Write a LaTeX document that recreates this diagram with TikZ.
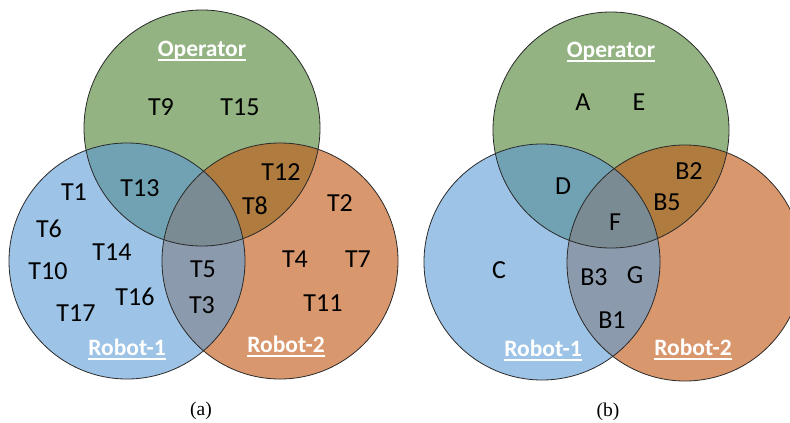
\documentclass[tikz,border=0pt]{standalone}
\usepackage{fontspec}
\setmainfont{Carlito}
\newfontfamily\capfont{Liberation Serif}
\definecolor{cg}{HTML}{93B382}
\definecolor{cb}{HTML}{9DC3E6}
\definecolor{co}{HTML}{D9976D}
\definecolor{cgb}{HTML}{70A2B3}
\definecolor{cgo}{HTML}{AF7B3E}
\definecolor{cbo}{HTML}{8B9AAD}
\definecolor{cgbo}{HTML}{7B8B93}
\definecolor{edge}{HTML}{2A2A2A}
\tikzset{
  item/.style={font=\fontsize{26}{26}\selectfont, text=black, inner sep=0pt},
  setname/.style={font=\fontsize{23.5}{24}\selectfont\bfseries, text=white, inner sep=0pt, anchor=base},
  uline/.style={draw=white, line width=1.3pt},
  caption/.style={font=\capfont\fontsize{19.5}{20}\selectfont, inner sep=0pt},
  rim/.style={draw=edge, line width=0.8pt},
}
% Three-set diagram: centres of Operator, Robot-1, Robot-2
\newcommand\threesets[6]{%
  \fill[cg] (#1,#2) circle (118pt);
  \fill[cb] (#3,#4) circle (118pt);
  \fill[co] (#5,#6) circle (118pt);
  \begin{scope}
    \clip (#3,#4) circle (118pt);
    \fill[cbo] (#5,#6) circle (118pt);
  \end{scope}
  \begin{scope}
    \clip (#1,#2) circle (118pt);
    \fill[cgb] (#3,#4) circle (118pt);
    \fill[cgo] (#5,#6) circle (118pt);
    \clip (#3,#4) circle (118pt);
    \fill[cgbo] (#5,#6) circle (118pt);
  \end{scope}
  \draw[rim] (#1,#2) circle (118pt);
  \draw[rim] (#3,#4) circle (118pt);
  \draw[rim] (#5,#6) circle (118pt);
}
% Underlined set title
\newcommand\settitle[4]{%
  \node[setname] (#1) at (#2,#3) {#4};
  \draw[uline] ([yshift=-4pt]#1.base west) -- ([yshift=-4pt]#1.base east);
}
\begin{document}
\begin{tikzpicture}[x=1pt,y=-1pt]
\useasboundingbox (0,0) rectangle (790,423);
\clip (0,0) rectangle (790,423);
\fill[white] (0,0) rectangle (790,423);

% ---- (a) task allocation ----
\threesets{202}{128}{127}{261}{280}{261}
\settitle{opA}{202}{56}{Operator}
\settitle{r1A}{127}{355}{Robot-1}
\settitle{r2A}{286}{352}{Robot-2}
\node[item] (t9)  at (161,107) {T9};
\node[item] (t15) at (240,107) {T15};
\node[item] (t13) at (140,188) {T13};
\node[item] (t12) at (281,172) {T12};
\node[item] (t8)  at (255,206) {T8};
\node[item] (t1)  at (74,192)  {T1};
\node[item] (t2)  at (340,203) {T2};
\node[item] (t6)  at (49,229)  {T6};
\node[item] (t14) at (112,252) {T14};
\node[item] (t10) at (48,271)  {T10};
\node[item] (t4)  at (295,259) {T4};
\node[item] (t7)  at (358,259) {T7};
\node[item] (t5)  at (203,269) {T5};
\node[item] (t3)  at (202,305) {T3};
\node[item] (t16) at (135,297) {T16};
\node[item] (t17) at (76,313)  {T17};
\node[item] (t11) at (323,303) {T11};
\node[caption] (capA) at (201,411) {(a)};

% ---- (b) grouping ----
\threesets{611}{130}{542}{262}{685}{263}
\settitle{opB}{611}{57}{Operator}
\settitle{r1B}{543}{356}{Robot-1}
\settitle{r2B}{693}{355}{Robot-2}
\node[item] (a)  at (583,102) {A};
\node[item] (e)  at (639,102) {E};
\node[item] (d)  at (563,186) {D};
\node[item] (b2) at (689,171) {B2};
\node[item] (b5) at (667,202) {B5};
\node[item] (f)  at (615,222) {F};
\node[item] (c)  at (499,270) {C};
\node[item] (b3) at (594,277) {B3};
\node[item] (g)  at (635,275) {G};
\node[item] (b1) at (612,320) {B1};
\node[caption] (capB) at (608,412) {(b)};
\end{tikzpicture}
\end{document}
